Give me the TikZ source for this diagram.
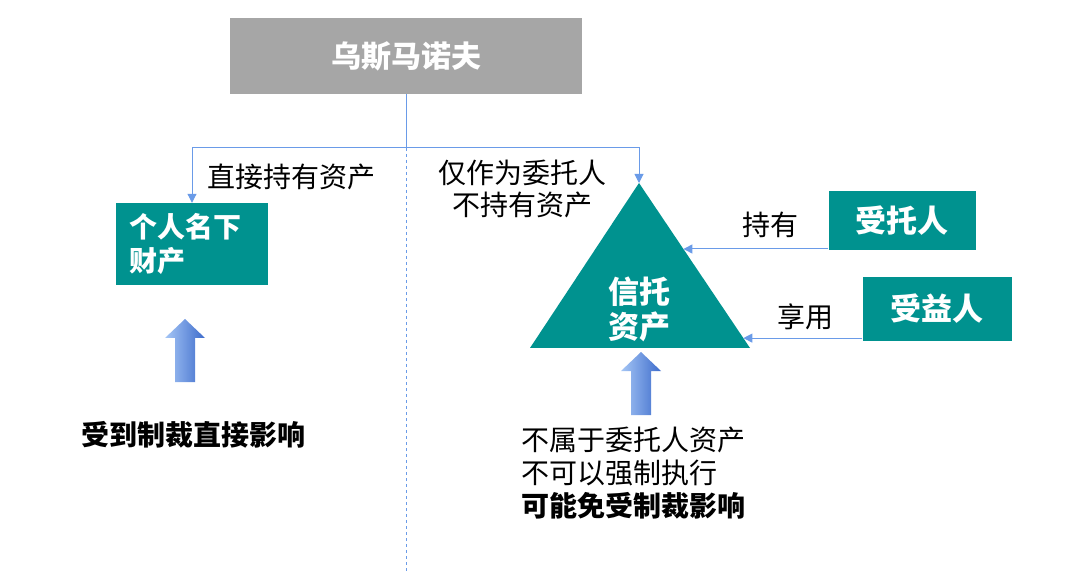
\documentclass[tikz,border=0pt]{standalone}
\usepackage{fontspec}
\setmainfont{Noto Sans CJK SC}
\usetikzlibrary{arrows.meta,calc}

\definecolor{trustgreen}{RGB}{0,146,143}
\definecolor{headgray}{RGB}{166,166,166}
\definecolor{linkblue}{RGB}{106,155,232}
\definecolor{arrowlight}{RGB}{165,198,245}
\definecolor{arrowdark}{RGB}{62,108,204}

\tikzset{
  box/.style={fill=trustgreen,text=white,inner sep=0pt,font=\bfseries\fontsize{31}{35}\selectfont},
  lbl/.style={inner sep=0pt,font=\fontsize{28}{33}\selectfont},
  link/.style={draw=linkblue,line width=1pt,-{Triangle[length=9pt,width=9pt]}},
  liftarrow/.pic={
    \path[left color=arrowlight,right color=arrowdark]
      (0,0) -- (20,19) -- (10,19) -- (10,63) -- (-10,63) -- (-10,19) -- (-20,19) -- cycle;
  }
}

\begin{document}
\begin{tikzpicture}[x=1pt,y=-1pt]
\useasboundingbox (0,0) rectangle (1080,572);

% top
\node[box,fill=headgray,minimum width=352,minimum height=76,font=\bfseries\fontsize{30}{34}\selectfont] (head) at (406,56) {乌斯马诺夫};
\coordinate (split) at (406,148);
\coordinate (bottom) at (406,572);

% left side
\node[box,minimum width=152,minimum height=82,inner xsep=13pt,text width=126,align=left,font=\bfseries\fontsize{28}{34}\selectfont] (own) at (192,244) {个人名下\\财产};
\node[lbl,anchor=west] (direct) at (207,177) {直接持有资产};
\pic at (185,319) {liftarrow};
\node[lbl,anchor=west,font=\bfseries\fontsize{28}{33}\selectfont] (hit) at (81,435) {受到制裁直接影响};

% right side
\coordinate (apex) at (639,183);
\coordinate (bl) at (530,348);
\coordinate (br) at (750,348);
\fill[trustgreen] (apex) -- (bl) -- (br) -- cycle;
\node[box,fill=none,align=center,font=\bfseries\fontsize{31}{35}\selectfont] (asset) at (639,309) {信托\\资产};
\coordinate (hold) at ($(apex)!0.4!(br)$);
\coordinate (enjoy) at ($(apex)!0.94!(br)$);

\node[lbl,align=center,font=\fontsize{28}{32}\selectfont] (settlor) at (522,189) {仅作为委托人\\不持有资产};
\node[box,minimum width=147,minimum height=59] (trustee) at (902,221) {受托人};
\node[box,minimum width=149,minimum height=64] (benef) at (937,309) {受益人};
\node[lbl] (holdlbl) at (770,225) {持有};
\node[lbl] (uselbl) at (805,317) {享用};
\pic at (641,352) {liftarrow};
\node[lbl,anchor=west,align=left,font=\fontsize{28}{33}\selectfont] (safe) at (521,473) {不属于委托人资产\\不可以强制执行\\{\bfseries 可能免受制裁影响}};

% connectors
\draw[linkblue,line width=1pt] (head.south) -- (split);
\draw[link] (split) -| (own.north);
\draw[link] (split) -| (apex);
\draw[linkblue,line width=1pt,dashed] (split) -- (bottom);
\draw[link] (trustee.west |- hold) -- (hold);
\draw[link] (benef.west |- enjoy) -- (enjoy);

\end{tikzpicture}
\end{document}
